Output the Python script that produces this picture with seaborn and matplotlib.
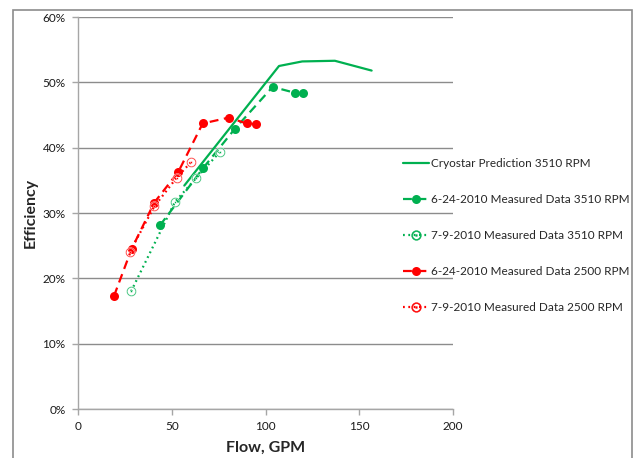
import matplotlib
matplotlib.use("Agg")
import matplotlib.pyplot as plt
import seaborn as sns
from matplotlib.patches import Rectangle
from matplotlib.lines import Line2D
from matplotlib.ticker import FuncFormatter

# ---- data ----
pred_flow = [56.7, 107.2, 119.6, 137.0, 156.6]
pred_eff = [34.2, 52.5, 53.2, 53.3, 51.8]

m0624_3510_flow = [43.7, 66.8, 83.7, 103.8, 115.7, 120.2]
m0624_3510_eff = [28.1, 36.9, 42.9, 49.3, 48.4, 48.3]

m0709_3510_flow = [28.3, 51.7, 62.9, 75.5]
m0709_3510_eff = [18.0, 31.7, 35.3, 39.3]

m0624_2500_flow = [19.2, 28.6, 40.7, 53.5, 66.5, 80.4, 90.0, 94.9]
m0624_2500_eff = [17.3, 24.5, 31.6, 36.3, 43.7, 44.6, 43.7, 43.6]

m0709_2500_flow = [27.7, 40.7, 52.6, 60.3]
m0709_2500_eff = [24.1, 31.0, 35.4, 37.8]

labels = [
    "Cryostar Prediction 3510 RPM",
    "6-24-2010 Measured Data 3510 RPM",
    "7-9-2010 Measured Data 3510 RPM",
    "6-24-2010 Measured Data 2500 RPM",
    "7-9-2010 Measured Data 2500 RPM",
]
x_ticks = [0, 50, 100, 150, 200]
y_ticks = [0, 10, 20, 30, 40, 50, 60]

GREEN = "#00B050"
RED = "#FF0000"
GRID = "#8C8C8C"

sns.set_theme(style="white")
plt.rcParams["font.family"] = ["Lato", "DejaVu Sans"]

fig = plt.figure(figsize=(6.37, 4.58), dpi=100)
ax = fig.add_axes([78 / 637, 1 - 409 / 458, (453 - 78) / 637, (409 - 17) / 458])

# chart-area border
fig.patches.append(Rectangle((13 / 637, -0.05), (632 - 13) / 637, 0.05 + 1 - 10 / 458,
                             transform=fig.transFigure, fill=False,
                             edgecolor="#8C8C8C", linewidth=1.2, zorder=0))

lw = 1.6
dash = (0, (4, 2.5))
dot = (0, (0.8, 1.6))
sns.lineplot(x=pred_flow, y=pred_eff, ax=ax, sort=False, color=GREEN,
             linewidth=lw, estimator=None, zorder=3)
sns.lineplot(x=m0624_3510_flow, y=m0624_3510_eff, ax=ax, sort=False, color=GREEN,
             linewidth=lw, linestyle=dash, marker="o",
             markersize=6.5, markeredgewidth=0, estimator=None, zorder=3)
sns.lineplot(x=m0709_3510_flow, y=m0709_3510_eff, ax=ax, sort=False, color=GREEN,
             linewidth=lw, linestyle=dot, marker=r"$\odot$",
             markersize=7, markeredgewidth=0.3, estimator=None, zorder=3)
sns.lineplot(x=m0624_2500_flow, y=m0624_2500_eff, ax=ax, sort=False, color=RED,
             linewidth=lw, linestyle=dash, marker="o",
             markersize=6.5, markeredgewidth=0, estimator=None, zorder=3)
sns.lineplot(x=m0709_2500_flow, y=m0709_2500_eff, ax=ax, sort=False, color=RED,
             linewidth=lw, linestyle=dot, marker=r"$\odot$",
             markersize=7, markeredgewidth=0.3, estimator=None, zorder=3)

ax.set_xlim(0, 200)
ax.set_ylim(0, 60)
ax.set_xticks(x_ticks)
ax.set_yticks(y_ticks)
ax.yaxis.set_major_formatter(FuncFormatter(lambda v, p: f"{v:.0f}%"))
ax.grid(axis="y", color=GRID, linewidth=1.0)
ax.grid(axis="x", visible=False)
ax.set_axisbelow(True)
for s in ["top", "right"]:
    ax.spines[s].set_visible(False)
for s in ["left", "bottom"]:
    ax.spines[s].set_color("#A6A6A6")
    ax.spines[s].set_linewidth(1.0)
ax.tick_params(axis="both", which="major", direction="out", length=4, width=1,
               color="#A6A6A6", labelsize=8.5, labelcolor="#1a1a1a", pad=5,
               bottom=True, left=True)

ax.set_xlabel("Flow, GPM", fontsize=11.5, fontweight="bold", labelpad=6)
ax.set_ylabel("Efficiency", fontsize=11.5, fontweight="bold", labelpad=3)

handles = [
    Line2D([], [], color=GREEN, linewidth=lw),
    Line2D([], [], color=GREEN, linewidth=lw, linestyle=dash, marker="o",
           markersize=6.5, markeredgewidth=0),
    Line2D([], [], color=GREEN, linewidth=lw, linestyle=dot, marker=r"$\odot$",
           markersize=7, markeredgewidth=0.3),
    Line2D([], [], color=RED, linewidth=lw, linestyle=dash, marker="o",
           markersize=6.5, markeredgewidth=0),
    Line2D([], [], color=RED, linewidth=lw, linestyle=dot, marker=r"$\odot$",
           markersize=7, markeredgewidth=0.3),
]
fig.legend(handles, labels, loc="upper left", bbox_to_anchor=(398 / 637, 1 - 153 / 458),
           frameon=False, fontsize=8.5, handlelength=2.2, handletextpad=0.2,
           labelspacing=2.12, borderaxespad=0)

fig.savefig("out.png", dpi=100)
